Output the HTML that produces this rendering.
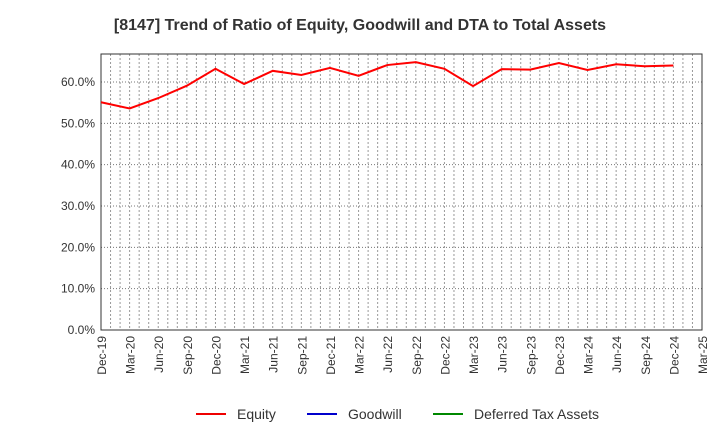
<!DOCTYPE html>
<html><head><meta charset="utf-8"><style>
body{margin:0;background:#fff;font-family:"Liberation Sans",sans-serif;}
</style></head><body>
<svg id="chart" width="720" height="440" xmlns="http://www.w3.org/2000/svg">
<text x="360" y="30" text-anchor="middle" font-size="16" font-weight="bold" fill="#333">[8147]  Trend of Ratio of Equity, Goodwill and DTA to Total Assets</text>
<g id="grid"></g><g id="axes"></g><g id="series"></g>
<g>
<line x1="196" y1="414" x2="226" y2="414" stroke="#e00" stroke-width="2"/>
<text x="237" y="419" font-size="14" fill="#333">Equity</text>
<line x1="307" y1="414" x2="337" y2="414" stroke="#00c" stroke-width="2"/>
<text x="348" y="419" font-size="14" fill="#333">Goodwill</text>
<line x1="433" y1="414" x2="463" y2="414" stroke="#080" stroke-width="2"/>
<text x="474" y="419" font-size="14" fill="#333">Deferred Tax Assets</text>
</g>
</svg>
<script>
const categories=["Dec-19","Mar-20","Jun-20","Sep-20","Dec-20","Mar-21","Jun-21","Sep-21","Dec-21","Mar-22","Jun-22","Sep-22","Dec-22","Mar-23","Jun-23","Sep-23","Dec-23","Mar-24","Jun-24","Sep-24","Dec-24","Mar-25"];
const equity=[55.1,53.6,56.1,59.1,63.2,59.5,62.7,61.7,63.4,61.5,64.1,64.8,63.2,59.0,63.1,63.0,64.6,62.9,64.3,63.8,64.0];
const yTicks=[0,10,20,30,40,50,60];
const yTickLabels=["0.0%","10.0%","20.0%","30.0%","40.0%","50.0%","60.0%"];
const L=101,R=702,T=54,B=330;
const x=i=>L+i*(R-L)/(categories.length-1);
const y=v=>B-v*(B-82)/60;
const ns="http://www.w3.org/2000/svg";
function mk(tag,parent,attrs){const e=document.createElementNS(ns,tag);for(const k in attrs)e.setAttribute(k,attrs[k]);document.getElementById(parent).appendChild(e);return e;}
for(let m=1;m<(categories.length-1)*3;m++){
 const g=mk("line","grid",{x1:x(m/3),x2:x(m/3),y1:T,y2:B,stroke:"#999","stroke-dasharray":"2,2","stroke-width":1});
 
 
}
categories.forEach((c,i)=>{
 const t=mk("text","axes",{transform:`translate(${x(i)+5},${B+6}) rotate(-90)`,"text-anchor":"end","font-size":12,fill:"#333"});
 t.textContent=c;
 
 
});
yTicks.forEach((v,i)=>{
 const g=mk("line","grid",{x1:L,x2:R,y1:y(v),y2:y(v),stroke:"#777","stroke-dasharray":"1,2","stroke-width":1});
 
 
 const t=mk("text","axes",{x:L-6,y:y(v)+4,"text-anchor":"end","font-size":12,fill:"#333"});
 t.textContent=yTickLabels[i];
 
 
});
const fr=mk("rect","axes",{x:L,y:T,width:R-L,height:B-T,fill:"none",stroke:"#333","stroke-width":1});


const p=mk("polyline","series",{points:equity.map((v,i)=>x(i)+","+y(v)).join(" "),fill:"none",stroke:"#f00","stroke-width":2});


</script>
</body></html>
